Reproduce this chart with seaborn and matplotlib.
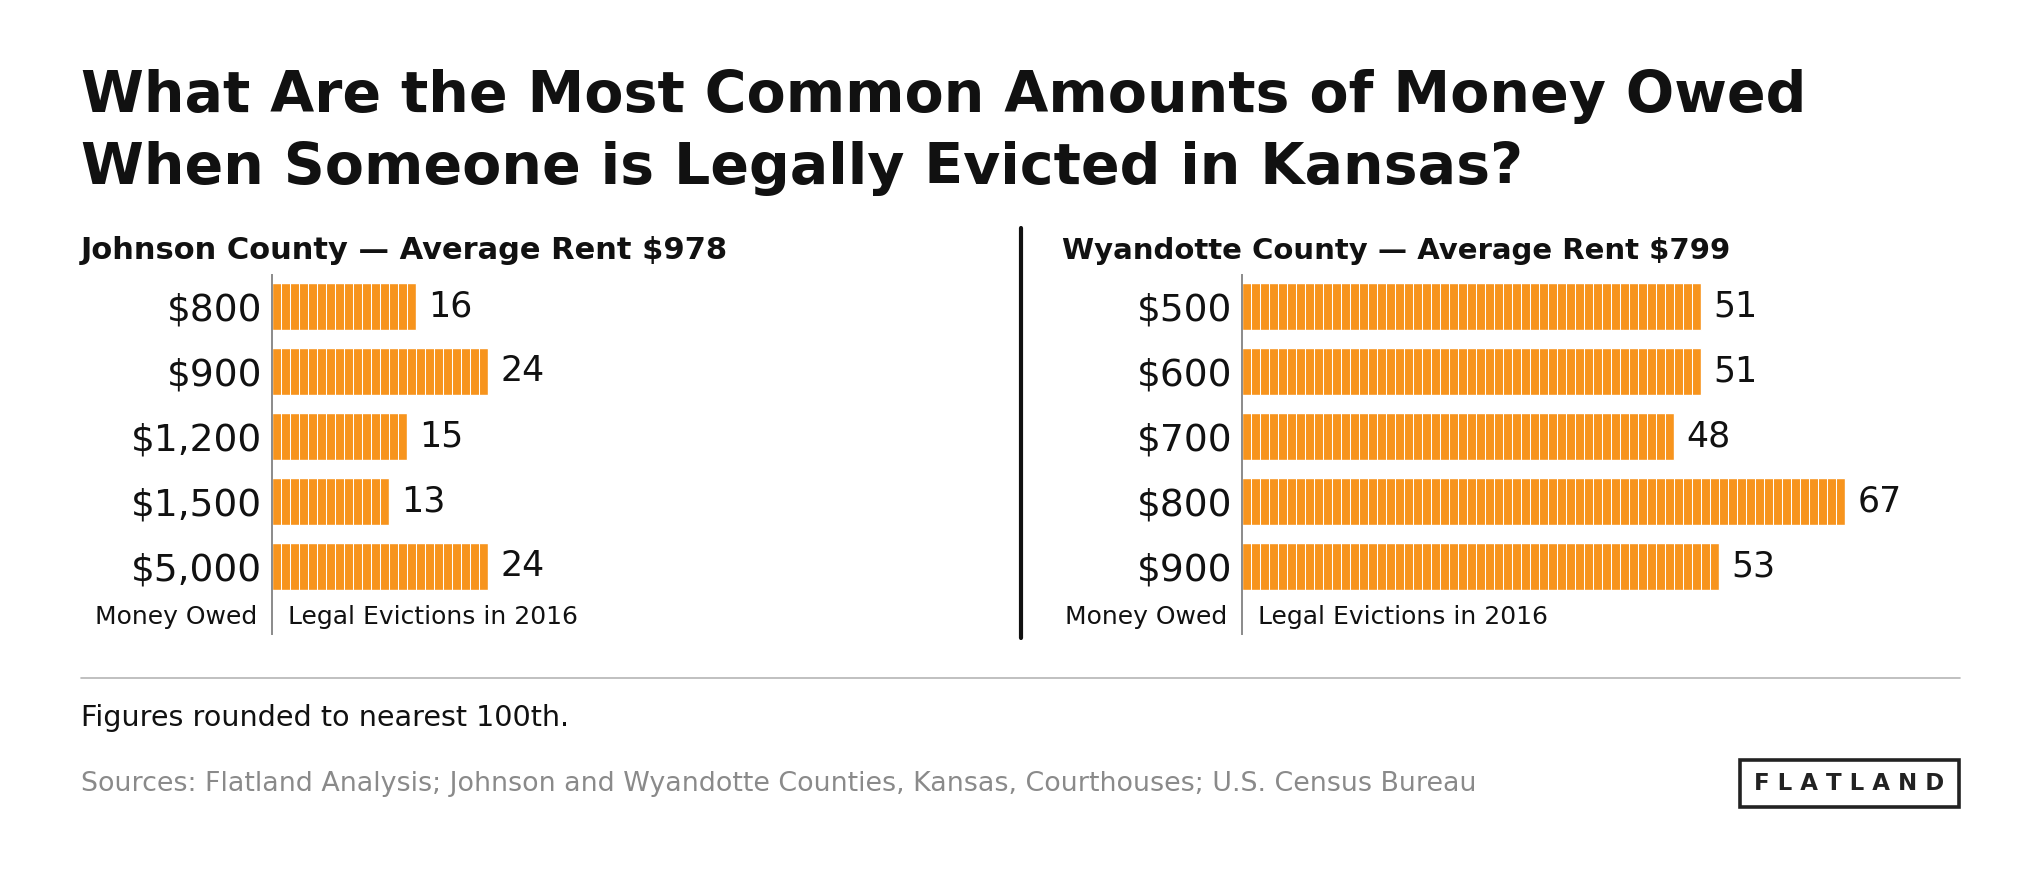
import numpy as np
import pandas as pd
import matplotlib
matplotlib.use("Agg")
import matplotlib.pyplot as plt
import seaborn as sns
from matplotlib.patches import Rectangle

# --- data ---
johnson_owed = ["$800", "$900", "$1,200", "$1,500", "$5,000"]
johnson_evictions = [16, 24, 15, 13, 24]
wyandotte_owed = ["$500", "$600", "$700", "$800", "$900"]
wyandotte_evictions = [51, 51, 48, 67, 53]

title_lines = ["What Are the Most Common Amounts of Money Owed",
               "When Someone is Legally Evicted in Kansas?"]
johnson_title = "Johnson County \u2014 Average Rent $978"
wyandotte_title = "Wyandotte County \u2014 Average Rent $799"
note = "Figures rounded to nearest 100th."
sources = ("Sources: Flatland Analysis; Johnson and Wyandotte Counties, Kansas, "
           "Courthouses; U.S. Census Bureau")

ORANGE = "#F7941D"
INK = "#111111"
GREY = "#8a8a8a"

sns.set_theme(style="white")
plt.rcParams["font.family"] = ["DejaVu Sans"]

W, H = 2040, 876
fig = plt.figure(figsize=(W / 100, H / 100), dpi=100)


def fx(px):
    return px / W


def fy(py):
    return 1 - py / H


def draw_panel(left_px, head_px, owed, evictions, heading, head_size):
    ax = fig.add_axes([fx(left_px), fy(634), fx(720), 359 / H])
    df = pd.DataFrame({"owed": owed, "evictions": evictions})
    sns.barplot(data=df, x="evictions", y="owed", orient="h", color=ORANGE,
                saturation=1, width=0.72, ax=ax)
    # unit stripes: one segment per eviction
    for i, v in enumerate(evictions):
        ax.vlines(np.arange(1, v), i - 0.36, i + 0.36, color="white", lw=0.75)
    ax.bar_label(ax.containers[0], padding=9, fontsize=25, color=INK)
    ax.set_xlim(0, 80)
    ax.set_ylim(5.04, -0.48)
    ax.set_xlabel("")
    ax.set_ylabel("")
    ax.set_xticks([])
    ax.tick_params(axis="y", length=0, pad=7, labelsize=27, labelcolor=INK)
    for s in ["top", "right", "bottom"]:
        ax.spines[s].set_visible(False)
    ax.spines["left"].set_color(GREY)
    ax.spines["left"].set_linewidth(1.4)
    ax.set_facecolor("none")
    fig.text(fx(head_px), fy(259), heading,
             fontsize=head_size, fontweight="bold", color=INK, va="baseline")
    fig.text(fx(left_px - 15), fy(617), "Money Owed", fontsize=18,
             color=INK, ha="right", va="center")
    fig.text(fx(left_px + 16), fy(617), "Legal Evictions in 2016", fontsize=18,
             color=INK, ha="left", va="center")
    return ax


draw_panel(272, 81, johnson_owed, johnson_evictions, johnson_title, 22)
draw_panel(1242, 1062, wyandotte_owed, wyandotte_evictions, wyandotte_title, 21)

# title
fig.text(fx(81), fy(112), title_lines[0], fontsize=41, fontweight="bold",
         color=INK, va="baseline")
fig.text(fx(81), fy(184), title_lines[1], fontsize=41, fontweight="bold",
         color=INK, va="baseline")

# divider between the two counties
fig.add_artist(plt.Line2D([fx(1021), fx(1021)], [fy(228), fy(638)],
                          color=INK, lw=3))
# rule above footer
fig.add_artist(plt.Line2D([fx(81), fx(1960)], [fy(678), fy(678)],
                          color="#b5b5b5", lw=1.2))

fig.text(fx(81), fy(718), note, fontsize=20.6, color=INK, va="center")
fig.text(fx(81), fy(784), sources, fontsize=19.4, color=GREY, va="center")

# logo
fig.add_artist(Rectangle((fx(1740), fy(807)), fx(219), 47 / H,
                         fill=False, edgecolor="#222222", lw=2.6))
fig.text(fx(1849), fy(783), "F L A T L A N D", fontsize=16.5, fontweight="bold",
         color="#222222", ha="center", va="center")

fig.savefig("out.png", dpi=100, facecolor="white")
